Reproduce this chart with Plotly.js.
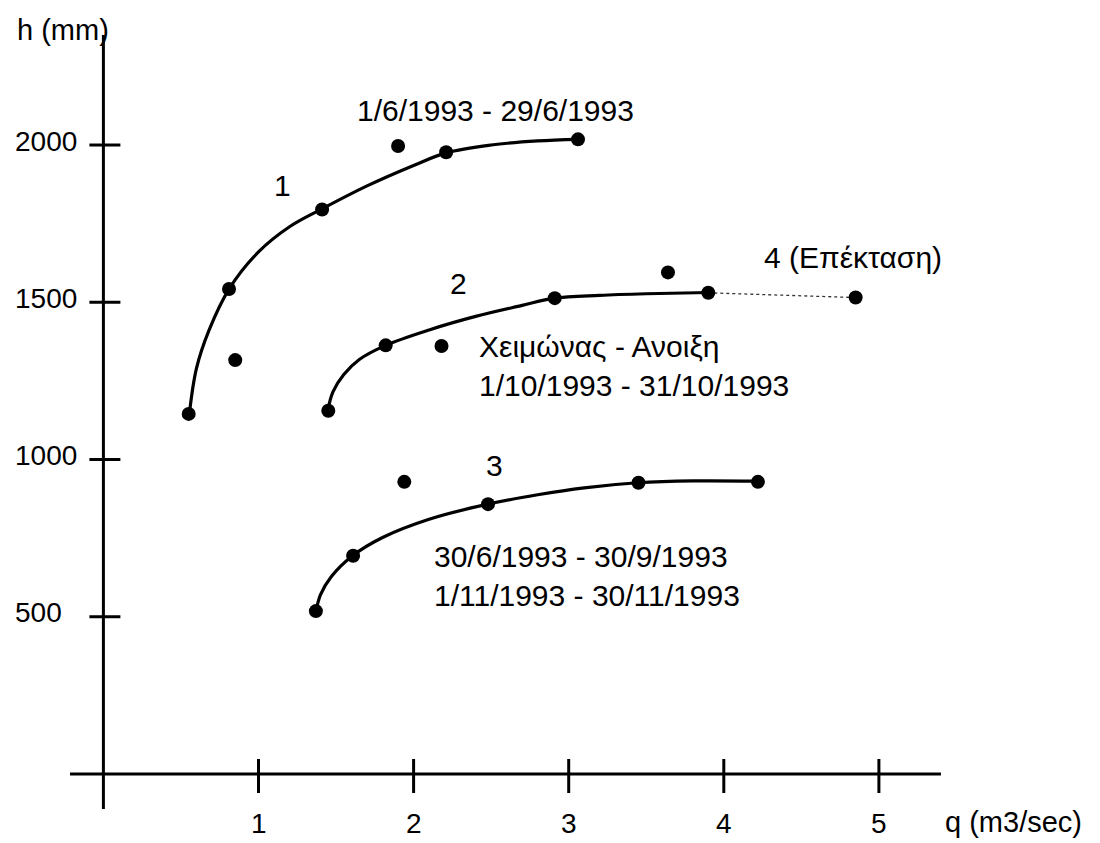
<!DOCTYPE html>
<html>
<head>
<meta charset="utf-8">
<script src="https://cdn.plot.ly/plotly-3.0.1.min.js"></script>
<style>html,body{margin:0;padding:0;background:#fff;}#chart{width:1100px;height:843px;}</style>
</head>
<body>
<div id="chart"></div>
<script>
// Measured points (q in m3/sec, h in mm)
const q1 = [0.55, 0.81, 0.85, 1.41, 1.90, 2.21, 3.06];
const h1 = [1145, 1542, 1316, 1795, 1997, 1977, 2018];
const q2 = [1.45, 1.82, 2.18, 2.91, 3.64, 3.90];
const h2 = [1155, 1363, 1361, 1513, 1595, 1530];
const q3 = [1.37, 1.61, 1.94, 2.48, 3.45, 4.22];
const h3 = [518, 694, 929, 858, 926, 929];
const q4 = [3.90, 4.85];
const h4 = [1530, 1515];

// Hand-drawn fitted curves
const fit1q = [0.554, 0.60, 0.68, 0.81, 1.00, 1.20, 1.41, 1.70, 2.00, 2.21, 2.50, 2.80, 3.058];
const fit1h = [1145, 1290, 1410, 1542, 1660, 1740, 1797, 1870, 1935, 1975, 2000, 2013, 2018];
const fit2q = [1.446, 1.48, 1.55, 1.65, 1.82, 2.10, 2.40, 2.70, 2.907, 3.20, 3.50, 3.905];
const fit2h = [1155, 1215, 1270, 1318, 1363, 1412, 1455, 1490, 1513, 1522, 1527, 1531];
const fit3q = [1.371, 1.40, 1.47, 1.607, 1.80, 2.10, 2.478, 2.80, 3.10, 3.445, 3.80, 4.222];
const fit3h = [518, 570, 628, 694, 752, 810, 858, 888, 910, 926, 932, 931];

// Axes
const xTicks = [1, 2, 3, 4, 5];
const xTickLabels = ['1', '2', '3', '4', '5'];
const yTicks = [500, 1000, 1500, 2000];
const yTickLabels = ['500', '1000', '1500', '2000'];
const xAxisTitle = 'q (m3/sec)';
const yAxisTitle = 'h (mm)';

// Labels
const labelTexts = ['1/6/1993 - 29/6/1993', '1', '2', '4 (Επέκταση)', 'Χειμώνας - Ανοιξη<br>1/10/1993 - 31/10/1993', '3', '30/6/1993 - 30/9/1993<br>1/11/1993 - 30/11/1993'];
const labelQ = [2.525, 1.156, 2.288, 4.83, 2.409, 2.52, 2.119];
const labelH = [2110, 1872, 1560, 1641, 1297, 982, 630];
const labelAnchor = ['center', 'center', 'center', 'center', 'left', 'center', 'left'];

const FONT = 'Liberation Sans, Arial, Helvetica, sans-serif';
const BLACK = '#000000';

const lineStyle = {color: BLACK, width: 3.2, shape: 'spline', smoothing: 1};
const dotStyle = {color: BLACK, size: 14};

const traces = [
  {x: fit1q, y: fit1h, mode: 'lines', line: lineStyle, hoverinfo: 'skip'},
  {x: fit2q, y: fit2h, mode: 'lines', line: lineStyle, hoverinfo: 'skip'},
  {x: fit3q, y: fit3h, mode: 'lines', line: lineStyle, hoverinfo: 'skip'},
  {x: q4, y: h4, mode: 'lines', line: {color: '#333333', width: 1.3, dash: 'dot'}, hoverinfo: 'skip'},
  {x: q1, y: h1, mode: 'markers', marker: dotStyle, name: '1'},
  {x: q2, y: h2, mode: 'markers', marker: dotStyle, name: '2'},
  {x: q3, y: h3, mode: 'markers', marker: dotStyle, name: '3'},
  {x: [q4[1]], y: [h4[1]], mode: 'markers', marker: dotStyle, name: '4'}
];

const shapes = [
  {type: 'line', xref: 'x', yref: 'y', x0: -0.215, x1: 5.40, y0: 0, y1: 0, line: {color: BLACK, width: 3}},
  {type: 'line', xref: 'x', yref: 'y', x0: 0, x1: 0, y0: -111, y1: 2350, line: {color: BLACK, width: 3}}
];
xTicks.forEach(v => shapes.push({type: 'line', xref: 'x', yref: 'y', ysizemode: 'pixel', yanchor: 0,
  x0: v, x1: v, y0: -19, y1: 15, line: {color: BLACK, width: 3}}));
yTicks.forEach(v => shapes.push({type: 'line', xref: 'x', yref: 'y', xsizemode: 'pixel', xanchor: 0,
  x0: -14, x1: 17, y0: v, y1: v, line: {color: BLACK, width: 3}}));

const annotations = [];
labelTexts.forEach((t, i) => annotations.push({
  text: t, x: labelQ[i], y: labelH[i], xref: 'x', yref: 'y', showarrow: false,
  xanchor: labelAnchor[i], yanchor: 'middle', align: 'left',
  font: {family: FONT, size: 30, color: BLACK}
}));
xTicks.forEach((v, i) => annotations.push({
  text: xTickLabels[i], x: v, y: -0.005, xref: 'x', yref: 'paper', showarrow: false,
  xanchor: 'center', yanchor: 'middle', font: {family: FONT, size: 28, color: BLACK}
}));
yTicks.forEach((v, i) => annotations.push({
  text: yTickLabels[i], x: -0.0522, y: v, xref: 'paper', yref: 'y', showarrow: false, yshift: 4,
  xanchor: 'left', yanchor: 'middle', font: {family: FONT, size: 28, color: BLACK}
}));
annotations.push({text: yAxisTitle, x: -0.05, y: 0.9937, xref: 'paper', yref: 'paper', showarrow: false,
  xanchor: 'left', yanchor: 'middle', font: {family: FONT, size: 29, color: BLACK}});
annotations.push({text: xAxisTitle, x: 0.981, y: -0.002, xref: 'paper', yref: 'paper', showarrow: false,
  xanchor: 'left', yanchor: 'middle', font: {family: FONT, size: 29, color: BLACK}});

const layout = {
  width: 1100, height: 843,
  margin: {l: 60, r: 140, t: 25, b: 23},
  paper_bgcolor: '#ffffff', plot_bgcolor: '#ffffff',
  showlegend: false,
  xaxis: {range: [-0.2798, 5.5229], showgrid: false, zeroline: false, showticklabels: false, ticks: '', showline: false},
  yaxis: {range: [-146.3, 2381.6], showgrid: false, zeroline: false, showticklabels: false, ticks: '', showline: false},
  shapes: shapes,
  annotations: annotations,
  font: {family: FONT, color: BLACK}
};

Plotly.newPlot('chart', traces, layout, {displayModeBar: false, staticPlot: true});
</script>
</body>
</html>
